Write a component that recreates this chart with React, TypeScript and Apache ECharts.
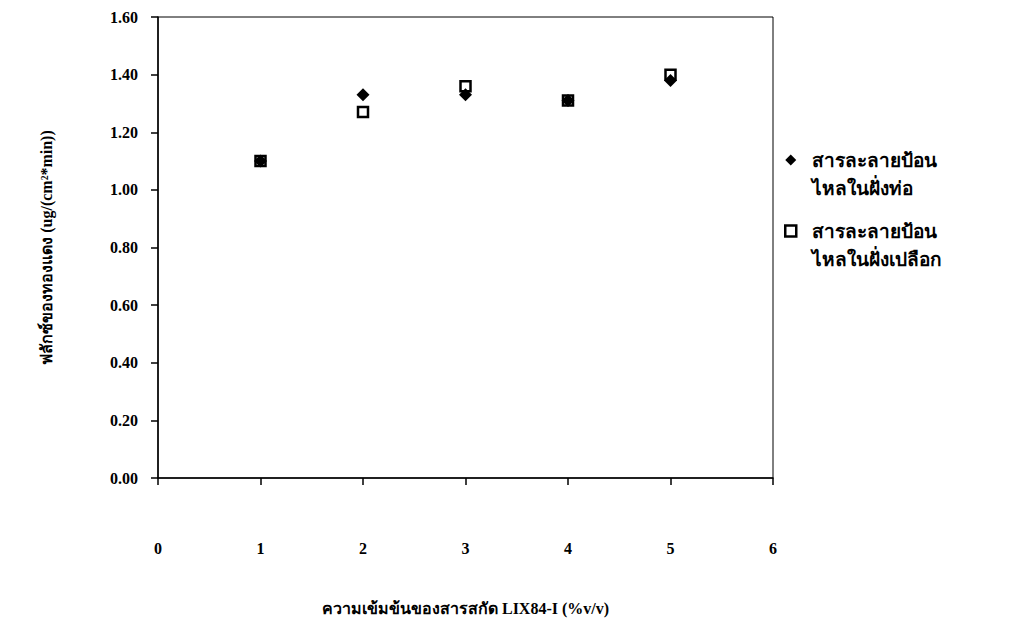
import React, { useEffect, useRef } from "react";
import * as echarts from "echarts";

const xValues = [1, 2, 3, 4, 5];
const tubeSide = [1.10, 1.33, 1.33, 1.31, 1.38];
const shellSide = [1.10, 1.27, 1.36, 1.31, 1.40];
const seriesNames = ["สารละลายป้อน\nไหลในฝั่งท่อ", "สารละลายป้อน\nไหลในฝั่งเปลือก"];
const xTitle = "ความเข้มข้นของสารสกัด LIX84-I (%v/v)";
const yTitle = "ฟลักซ์ของทองแดง (ug/(cm²*min))";

const FONT = "'Liberation Serif', 'Times New Roman', serif";
const LEG_FONT = { fontFamily: FONT, fontSize: 19, fontWeight: "bold" as const, color: "#000" };

export default function App() {
  const ref = useRef<HTMLDivElement>(null);
  useEffect(() => {
    const chart = echarts.init(ref.current!, null, { renderer: "svg" });
    const legendTop = 146;
    const legendStep = 71;
    chart.setOption({
      animation: false,
      backgroundColor: "#fff",
      textStyle: { fontFamily: FONT, color: "#000" },
      grid: {
        left: 158, right: 246, top: 17, bottom: 158,
        show: true, borderColor: "#000", borderWidth: 1, backgroundColor: "transparent",
      },
      legend: {
        orient: "vertical",
        left: 784,
        top: legendTop,
        padding: 0,
        itemGap: legendStep - 28,
        itemWidth: 11,
        itemHeight: 11,
        formatter: (name: string) => `{g|}{t|${name.split("\n")[0]}}`,
        textStyle: {
          ...LEG_FONT,
          lineHeight: 28,
          rich: {
            g: { width: 11 },
            t: { ...LEG_FONT, lineHeight: 28 },
          },
        },
        data: [
          { name: seriesNames[0], icon: "diamond" },
          { name: seriesNames[1], icon: "rect", itemStyle: { color: "#fff", borderColor: "#000", borderWidth: 2.5 } },
        ],
      },
      graphic: seriesNames.map((n, i) => ({
        type: "text",
        left: 812,
        top: legendTop + 28 + i * legendStep,
        style: { text: n.split("\n")[1], ...LEG_FONT, fill: "#000", lineHeight: 28, verticalAlign: "middle" },
      })),
      xAxis: {
        type: "value",
        min: 0, max: 6, interval: 1,
        name: xTitle,
        nameLocation: "middle",
        nameGap: 122,
        nameTextStyle: { fontFamily: FONT, fontSize: 16, fontWeight: "bold", color: "#000" },
        axisLine: { show: true, lineStyle: { color: "#000", width: 1.5 } },
        axisTick: { show: true, length: 7, lineStyle: { color: "#000", width: 1.5 } },
        axisLabel: { margin: 62, fontFamily: FONT, fontSize: 16, fontWeight: "bold", color: "#000" },
        splitLine: { show: false },
      },
      yAxis: {
        type: "value",
        min: 0, max: 1.6, interval: 0.2,
        name: yTitle,
        nameLocation: "middle",
        nameGap: 104,
        nameTextStyle: { fontFamily: FONT, fontSize: 16, fontWeight: "bold", color: "#000" },
        axisLine: { show: true, lineStyle: { color: "#000", width: 1.5 } },
        axisTick: { show: true, length: 7, lineStyle: { color: "#000", width: 1.5 } },
        axisLabel: {
          margin: 20, fontFamily: FONT, fontSize: 16, fontWeight: "bold", color: "#000",
          formatter: (v: number) => v.toFixed(2),
        },
        splitLine: { show: false },
      },
      series: [
        {
          name: seriesNames[0],
          type: "scatter",
          symbol: "diamond",
          symbolSize: 13,
          itemStyle: { color: "#000", opacity: 1 },
          data: xValues.map((x, i) => [x, tubeSide[i]]),
          z: 3,
        },
        {
          name: seriesNames[1],
          type: "scatter",
          symbol: "rect",
          symbolSize: 10,
          itemStyle: { color: "#fff", borderColor: "#000", borderWidth: 2.5, opacity: 1 },
          data: xValues.map((x, i) => [x, shellSide[i]]),
          z: 2,
        },
      ],
    });
    return () => chart.dispose();
  }, []);
  return <div ref={ref} style={{ width: 1019, height: 636, margin: -8 }} />;
}
